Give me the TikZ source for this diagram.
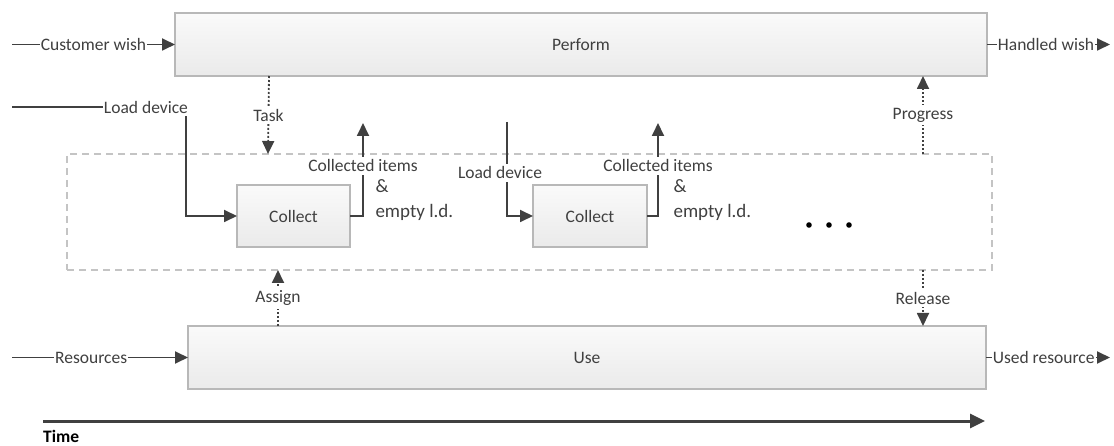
\documentclass[tikz,border=0pt]{standalone}
\usepackage{fontspec}
\setmainfont{Carlito}
\usetikzlibrary{arrows.meta, positioning, calc}
\definecolor{ink}{HTML}{404040}
\definecolor{boxline}{HTML}{B8B8B8}
\definecolor{boxtop}{HTML}{FAFAFA}
\definecolor{boxbot}{HTML}{EAEAEA}
\definecolor{dashgray}{HTML}{C4C4C4}

\begin{document}
\begin{tikzpicture}[
    x=1pt, y=-1pt,
    font=\fontsize{17.5}{21}\selectfont,
    >={Triangle[length=13pt,width=12pt]},
    box/.style={rectangle, draw=boxline, line width=1.2pt, top color=boxtop, bottom color=boxbot, text=ink, outer sep=0pt, minimum height=62pt},
    phase/.style={rectangle, draw=dashgray, line width=1.5pt, dash pattern=on 7pt off 5pt, outer sep=0pt},
    lbl/.style={fill=white, text=ink, inner xsep=1pt, inner ysep=3pt},
    line/.style={->, draw=ink, line width=1.8pt},
    dline/.style={->, draw=ink, line width=1.8pt, dash pattern=on 2pt off 2pt},
    timeline/.style={-{Triangle[length=15pt,width=14pt]}, draw=ink, line width=3pt}
]
\useasboundingbox (0,0) rectangle (1114,446);

% process boxes
\node[box, minimum width=812pt, minimum height=63pt] (perform) at (581,44.5) {Perform};
\node[box, minimum width=798pt, minimum height=63pt] (use) at (587,357.5) {Use};
\node[phase, minimum width=925pt, minimum height=116pt] (hub) at (529.5,212) {};
\node[box, minimum width=113pt] (collectA) at (293.5,216) {Collect};
\node[box, minimum width=114pt] (collectB) at (590,216) {Collect};

\coordinate (wishIn) at (12,44.5);
\coordinate (wishOut) at (1110,44.5);
\coordinate (resIn) at (12,357.5);
\coordinate (resOut) at (1110,357.5);
\coordinate (loadAIn) at (12,107);
\coordinate (loadBIn) at (507,122);
\coordinate (outA) at (363,123);
\coordinate (outB) at (658,123);
\coordinate (timeA) at (43,421);
\coordinate (timeB) at (985,421);

% flows in and out
\draw[line] (wishIn) -- node[lbl] {Customer wish} (perform.west);
\draw[line] (perform.east) -- node[lbl, pos=0.48] {Handled wish} (wishOut);
\draw[line] (resIn) -- node[lbl, pos=0.45] {Resources} (use.west);
\draw[line] (use.east) -- node[lbl, pos=0.465] {Used resource} (resOut);

\draw[line] (loadAIn) -| node[lbl, pos=0.385] {Load device} ([xshift=-51pt]collectA.west) -- (collectA.west);
\draw[line] (loadBIn) |- node[lbl, pos=0.27, xshift=-7pt] {Load device} (collectB.west);

\draw[line] (collectA.east) -| node[lbl, pos=0.77] {Collected items} (outA);
\draw[line] (collectB.east) -| node[lbl, pos=0.77] {Collected items} (outB);

\node[anchor=west, align=left, text=ink, font=\fontsize{19}{25}\selectfont] (itemsA) at (372,200) {\&\\empty l.d.};
\node[anchor=west, align=left, text=ink, font=\fontsize{19}{25}\selectfont] (itemsB) at (670,200) {\&\\empty l.d.};

\foreach \dx in {809,829,849}
    \fill[black] (\dx,225) circle (2.8pt);

% control and resources
\draw[dline] ([xshift=94pt]perform.south west) -- node[lbl] {Task} ([xshift=201pt]hub.north west);
\draw[dline] ([xshift=-69pt]hub.north east) -- node[lbl] {Progress} ([xshift=-64pt]perform.south east);
\draw[dline] ([xshift=90pt]use.north west) -- node[lbl] {Assign} ([xshift=211pt]hub.south west);
\draw[dline] ([xshift=-69pt]hub.south east) -- node[lbl] {Release} ([xshift=-63pt]use.north east);

\draw[timeline] (timeA) -- (timeB);
\node[anchor=base west, inner sep=0pt, text=black, font=\fontsize{17.5}{21}\selectfont\bfseries] (time) at (43,442.5) {Time};
\end{tikzpicture}
\end{document}
